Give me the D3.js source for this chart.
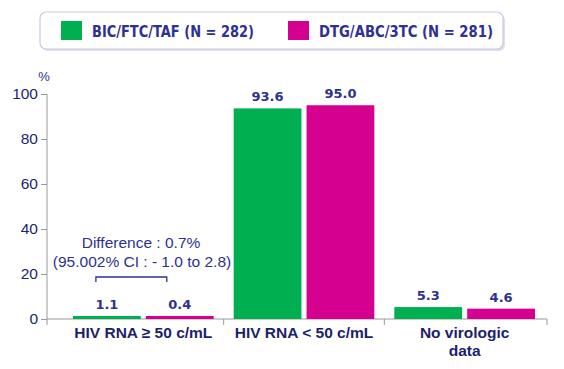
<!DOCTYPE html>
<html>
<head>
<meta charset="utf-8">
<script src="https://cdn.jsdelivr.net/npm/d3@7"></script>
<style>
  body { margin: 0; background: #fff; }
  svg { display: block; font-family: Verdana, "DejaVu Sans", sans-serif; }
</style>
</head>
<body>
<svg id="chart" width="564" height="369"></svg>
<script>
// data
const categories = ["HIV RNA ≥ 50 c/mL", "HIV RNA < 50 c/mL", "No virologic data"];
const seriesNames = ["BIC/FTC/TAF (N = 282)", "DTG/ABC/3TC  (N = 281)"];
const bicValues = [1.1, 93.6, 5.3];
const dtgValues = [0.4, 95.0, 4.6];
const yTicks = [0, 20, 40, 60, 80, 100];
const colors = ["#00B050", "#D5008F"];

const navy = "#2E3192";
const dark = "#1C1F6B";
const arial = "Arial, 'Liberation Sans', sans-serif";

const svg = d3.select("#chart");

const x = d3.scaleBand().domain(categories).range([63, 545]).paddingInner(0).paddingOuter(0);
const sub = d3.scaleBand().domain([0, 1]).range([10, x.bandwidth() - 10]).paddingInner(0.07);
const y = d3.scaleLinear().domain([0, 100]).range([319, 94]);

// legend box
const legend = svg.append("g");
legend.append("rect")
  .attr("x", 42).attr("y", 14).attr("width", 463).attr("height", 37)
  .attr("rx", 6).attr("fill", "#c9c9d6").attr("opacity", 0.6);
legend.append("rect")
  .attr("x", 40).attr("y", 12).attr("width", 463).attr("height", 37)
  .attr("rx", 6).attr("fill", "#fff").attr("stroke", "#c8c8ea").attr("stroke-width", 1.2);
const legX = [61, 288];
const legW = [162, 174];
seriesNames.forEach((n, i) => {
  legend.append("rect")
    .attr("x", legX[i]).attr("y", 21).attr("width", 21).attr("height", 19)
    .attr("fill", colors[i]);
  legend.append("text")
    .attr("x", legX[i] + 31).attr("y", 37)
    .attr("font-size", 15).attr("font-weight", "bold").attr("fill", navy)
    .attr("font-family", "'DejaVu Sans', Verdana, sans-serif")
    .attr("textLength", legW[i]).attr("lengthAdjust", "spacingAndGlyphs")
    .text(n);
});

// y axis
const yAxis = svg.append("g").attr("transform", "translate(47,0)")
  .call(d3.axisLeft(y).tickValues(yTicks).tickSize(6).tickPadding(3));
yAxis.select(".domain").attr("stroke", "#9a9a9a").attr("d", `M-0.5,${y(100)}H0V${y(0)}`);
yAxis.selectAll(".tick line").attr("stroke", "#9a9a9a");
yAxis.selectAll(".tick text").attr("fill", dark).attr("font-size", 15.5)
  .attr("font-family", arial);
svg.append("text").attr("x", 44).attr("y", 81).attr("text-anchor", "middle")
  .attr("font-size", 13).attr("fill", navy)
  .attr("font-family", arial).text("%");

// x axis line with ticks at category boundaries
svg.append("line").attr("x1", 47).attr("x2", 547).attr("y1", y(0)).attr("y2", y(0))
  .attr("stroke", "#9a9a9a");
const bounds = [47].concat(categories.map(c => x(c) + x.bandwidth()));
bounds[bounds.length - 1] = 547;
svg.selectAll(".xtick").data(bounds).join("line")
  .attr("x1", d => d).attr("x2", d => d).attr("y1", y(0)).attr("y2", y(0) + 6)
  .attr("stroke", "#9a9a9a");

// bars
const rows = categories.map((c, i) => ({ c, vals: [bicValues[i], dtgValues[i]] }));
const groups = svg.selectAll(".grp").data(rows).join("g")
  .attr("transform", d => `translate(${x(d.c)},0)`);
groups.selectAll("rect").data(d => d.vals).join("rect")
  .attr("x", (d, i) => sub(i)).attr("width", sub.bandwidth())
  .attr("y", d => Math.min(y(d), y(0) - 3)).attr("height", d => y(0) - Math.min(y(d), y(0) - 3))
  .attr("fill", (d, i) => colors[i]);
groups.selectAll(".val").data(d => d.vals).join("text")
  .attr("x", (d, i) => sub(i) + sub.bandwidth() / 2)
  .attr("y", d => Math.min(y(d), y(0) - 3) - 7)
  .attr("text-anchor", "middle").attr("font-size", 13).attr("font-weight", "bold")
  .attr("fill", navy).text(d => d.toFixed(1));

// category labels
const catLines = [["HIV RNA ≥ 50 c/mL"], ["HIV RNA < 50 c/mL"], ["No virologic", "data"]];
categories.forEach((c, i) => {
  const t = svg.append("text").attr("x", x(c) + x.bandwidth() / 2).attr("y", 338)
    .attr("text-anchor", "middle").attr("font-size", 15.5).attr("font-weight", "bold")
    .attr("fill", dark).attr("font-family", arial);
  catLines[i].forEach((l, j) => t.append("tspan").attr("x", x(c) + x.bandwidth() / 2)
    .attr("dy", j ? 18 : 0).text(l));
});

// difference annotation
const annX = 141;
const ann = svg.append("g").attr("fill", navy).attr("font-size", 15.5)
  .attr("font-family", arial).attr("text-anchor", "middle");
ann.append("text").attr("x", annX).attr("y", 248).text("Difference : 0.7%");
ann.append("text").attr("x", annX + 1).attr("y", 267).text("(95.002% CI : - 1.0 to 2.8)");
const bx1 = x(categories[0]) + sub(0) + sub.bandwidth() / 2 - 11;
const bx2 = x(categories[0]) + sub(1) + sub.bandwidth() / 2 - 13;
svg.append("path")
  .attr("d", `M${bx1},282V277H${bx2}V282`)
  .attr("fill", "none").attr("stroke", navy).attr("stroke-width", 1.3);
</script>
</body>
</html>
